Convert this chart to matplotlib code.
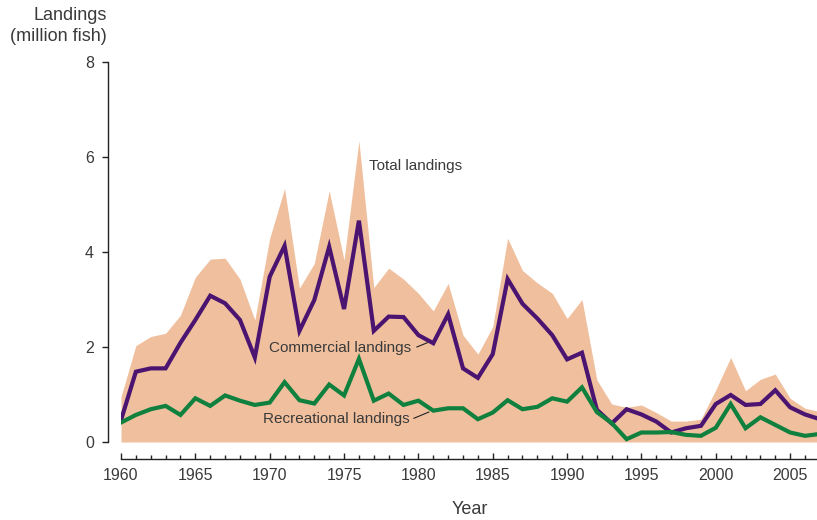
import matplotlib
matplotlib.use("Agg")
import matplotlib.pyplot as plt
import numpy as np

years = np.arange(1960, 2008)

total = [0.95, 2.03, 2.22, 2.29, 2.67, 3.47, 3.85, 3.87, 3.43, 2.57,
         4.29, 5.34, 3.24, 3.76, 5.29, 3.83, 6.34, 3.25, 3.66, 3.43,
         3.13, 2.76, 3.34, 2.25, 1.85, 2.43, 4.29, 3.61, 3.35, 3.13,
         2.60, 3.00, 1.31, 0.80, 0.73, 0.78, 0.62, 0.44, 0.44, 0.48,
         1.10, 1.78, 1.08, 1.32, 1.43, 0.92, 0.71, 0.64]

commercial = [0.46, 1.48, 1.55, 1.55, 2.09, 2.57, 3.08, 2.92, 2.57, 1.78,
              3.48, 4.13, 2.34, 2.99, 4.11, 2.80, 4.66, 2.34, 2.64, 2.63,
              2.25, 2.08, 2.69, 1.55, 1.35, 1.85, 3.43, 2.91, 2.60, 2.25,
              1.74, 1.88, 0.68, 0.39, 0.69, 0.58, 0.43, 0.20, 0.29, 0.34,
              0.80, 0.99, 0.78, 0.80, 1.09, 0.73, 0.58, 0.48]

recreational = [0.41, 0.57, 0.69, 0.76, 0.57, 0.92, 0.76, 0.98, 0.87, 0.78,
                0.83, 1.26, 0.88, 0.81, 1.21, 0.98, 1.75, 0.87, 1.02, 0.78,
                0.87, 0.66, 0.71, 0.71, 0.48, 0.62, 0.88, 0.69, 0.74, 0.92,
                0.85, 1.15, 0.63, 0.40, 0.06, 0.20, 0.20, 0.21, 0.15, 0.13,
                0.30, 0.80, 0.29, 0.52, 0.36, 0.20, 0.13, 0.17]

TXT = "#3a3a3a"
PX = 72 / 100  # points per pixel at dpi 100
plt.rcParams['font.family'] = ['Liberation Sans', 'DejaVu Sans']

fig = plt.figure(figsize=(8.17, 5.2), dpi=100)
ax = fig.add_axes([121 / 817, 78 / 520, 696 / 817, 380 / 520])

ax.fill_between(years, 0, total, color="#f0c09e", linewidth=0)
ax.plot(years, commercial, color="#4a1470", linewidth=3, solid_joinstyle="miter")
ax.plot(years, recreational, color="#10803f", linewidth=3, solid_joinstyle="miter")

ax.set_xlim(1960, 1960 + 696 / 14.87)
ax.set_ylim(0, 8)

for s in ["top", "right"]:
    ax.spines[s].set_visible(False)
ax.spines["left"].set_position(("outward", 13 * PX))
ax.spines["bottom"].set_position(("outward", 16.5 * PX))
ax.spines["left"].set_bounds(0, 8)
for s in ["left", "bottom"]:
    ax.spines[s].set_color("#222222")
    ax.spines[s].set_linewidth(1.0)

ax.set_yticks([0, 2, 4, 6, 8])
ax.set_xticks(np.arange(1960, 2006, 5))
ax.set_xticks(np.arange(1960, 2007, 1), minor=True)
ax.tick_params(axis="y", direction="out", length=6 * PX, width=1, color="#222222",
               labelsize=11.5, labelcolor=TXT, pad=8 * PX)
ax.tick_params(axis="x", which="major", direction="in", length=6 * PX, width=1,
               color="#222222", labelsize=11.5, labelcolor=TXT, pad=10 * PX)
ax.tick_params(axis="x", which="minor", direction="in", length=4 * PX, width=1,
               color="#222222")

fig.text(107 / 817, 1 - 26 / 520, "Landings\n(million fish)", ha="right", va="center",
         fontsize=13, color=TXT, linespacing=1.35)
fig.text(470 / 817, 1 - 509 / 520, "Year", ha="center", va="center",
         fontsize=13, color=TXT)

ax.text(1976.65, 5.82, "Total landings", fontsize=11, color=TXT, va="center", ha="left")
ax.text(1974.7, 1.98, "Commercial landings", fontsize=11, color=TXT, va="center", ha="center")
ax.plot([1979.9, 1980.6], [2.0, 2.09], color="#222222", linewidth=0.8)
ax.text(1974.5, 0.48, "Recreational landings", fontsize=11, color=TXT, va="center", ha="center")
ax.plot([1979.7, 1980.7], [0.5, 0.63], color="#222222", linewidth=0.8)

fig.savefig("out.png", dpi=100)
